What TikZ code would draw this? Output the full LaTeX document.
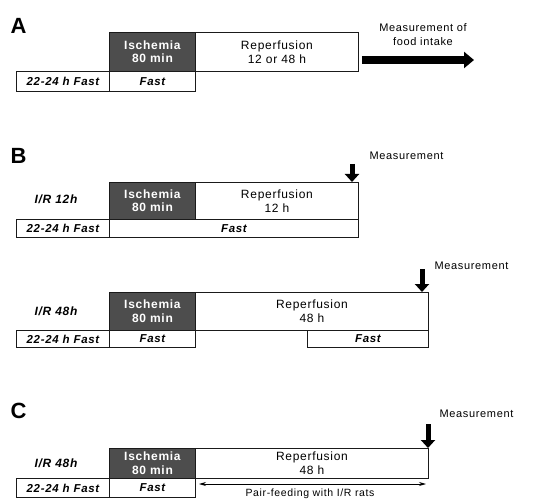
\documentclass[tikz,border=0pt]{standalone}
\usepackage{fontspec}
\setmainfont{Liberation Sans}[LetterSpace=6]
\usetikzlibrary{arrows.meta, positioning}
\definecolor{ischgray}{HTML}{4D4D4D}
\definecolor{linegray}{HTML}{1A1A1A}
\tikzset{
  phase/.style={draw=linegray, line width=0.9pt, anchor=north west, inner sep=0pt,
                align=center, font=\fontsize{12}{14}\selectfont},
  ischbox/.style={phase, fill=ischgray, text=white,
                  font=\bfseries\fontsize{12}{13.5}\selectfont},
  repbox/.style={phase, fill=white},
  fastbox/.style={phase, fill=white, font=\bfseries\itshape\fontsize{11.5}{13}\selectfont},
  grouplabel/.style={font=\bfseries\itshape\fontsize{12}{14}\selectfont},
  panel/.style={anchor=base west, font=\bfseries\fontsize{22}{24}\selectfont},
  measlabel/.style={anchor=base west, font=\fontsize{11}{13}\selectfont},
  measarrow/.style={-{Triangle[width=14pt,length=8pt]}, line width=5pt},
}
\begin{document}
\begin{tikzpicture}[x=1pt,y=-1pt]
  \useasboundingbox (0,0) rectangle (533,500);

  % Panel A
  \node[panel] (lblA) at (7,34) {A};
  \node[ischbox, minimum width=86, minimum height=39] (ischA) at (109,32) {Ischemia\\80 min};
  \node[repbox, minimum width=163, minimum height=39] (repA) at (195,32) {Reperfusion\\12 or 48 h};
  \node[fastbox, minimum width=93, minimum height=20] (preA) at (16,71) {22-24 h Fast};
  \node[fastbox, minimum width=86, minimum height=20] (fastA) at (109,71) {Fast};
  \coordinate (foodend) at (474,60);
  \draw[-{Triangle[width=16pt,length=10pt]}, line width=8.5pt]
    ([xshift=3pt]repA.east |- foodend) -- (foodend);
  \node[align=center, font=\fontsize{11}{14}\selectfont] (foodlbl) at (423,35)
    {Measurement of\\food intake};

  % Panel B, I/R 12h
  \node[panel] (lblB) at (7,164) {B};
  \node[grouplabel] (grpB1) at (56,199) {I/R 12h};
  \node[ischbox, minimum width=86, minimum height=37] (ischB1) at (109,182) {Ischemia\\80 min};
  \node[repbox, minimum width=163, minimum height=37] (repB1) at (195,182) {Reperfusion\\12 h};
  \node[fastbox, minimum width=93, minimum height=18] (preB1) at (16,219) {22-24 h Fast};
  \node[fastbox, minimum width=249, minimum height=18] (fastB1) at (109,219) {Fast};
  \coordinate (measB1) at (352,164);
  \draw[measarrow] (measB1) -- (measB1 |- repB1.north);
  \node[measlabel] (mlB1) at (366,160) {Measurement};

  % Panel B, I/R 48h
  \node[grouplabel] (grpB2) at (56,311) {I/R 48h};
  \node[ischbox, minimum width=86, minimum height=38] (ischB2) at (109,292) {Ischemia\\80 min};
  \node[repbox, minimum width=233, minimum height=38] (repB2) at (195,292) {Reperfusion\\48 h};
  \node[fastbox, minimum width=93, minimum height=17] (preB2) at (16,330) {22-24 h Fast};
  \node[fastbox, minimum width=86, minimum height=17] (fastB2) at (109,330) {Fast};
  \node[fastbox, minimum width=121, minimum height=17] (lateB2) at (307,330) {Fast};
  \coordinate (measB2) at (422,269);
  \draw[measarrow] (measB2) -- (measB2 |- repB2.north);
  \node[measlabel] (mlB2) at (431,269) {Measurement};

  % Panel C
  \node[panel] (lblC) at (7,418) {C};
  \node[grouplabel] (grpC) at (56,463) {I/R 48h};
  \node[ischbox, minimum width=86, minimum height=30] (ischC) at (109,448) {Ischemia\\80 min};
  \node[repbox, minimum width=233, minimum height=30] (repC) at (195,448) {Reperfusion\\48 h};
  \node[fastbox, minimum width=93, minimum height=19] (preC) at (16,478) {22-24 h Fast};
  \node[fastbox, minimum width=86, minimum height=19] (fastC) at (109,478) {Fast};
  \coordinate (measC) at (428,424);
  \draw[measarrow] (measC) -- (measC |- repC.north);
  \node[measlabel] (mlC) at (436,417) {Measurement};
  % pair-feeding span
  \coordinate (pairL) at (199,484);
  \coordinate (pairR) at (426,484);
  \draw[{Stealth[length=7pt,width=4pt]}-{Stealth[length=7pt,width=4pt]}, line width=0.8pt]
    (pairL) -- (pairR);
  \node[anchor=base, font=\fontsize{10.5}{12}\selectfont] (pairlbl) at (310,496.5)
    {Pair-feeding with I/R rats};
\end{tikzpicture}
\end{document}
